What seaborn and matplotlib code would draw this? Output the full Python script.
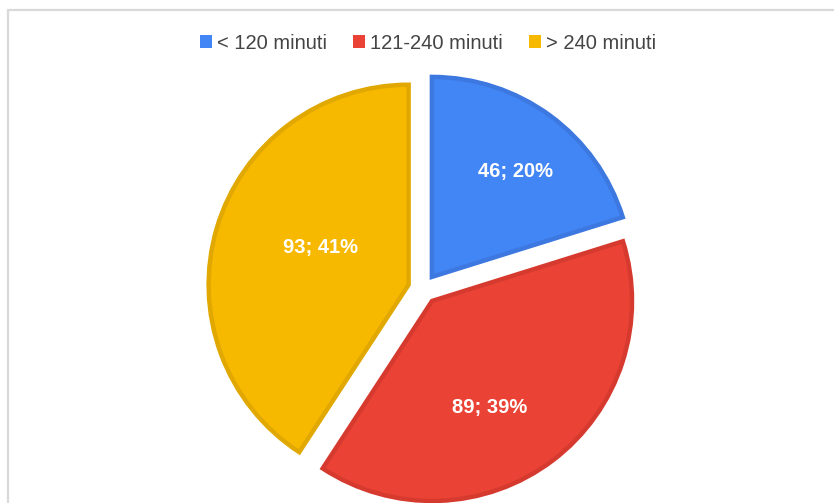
import matplotlib
matplotlib.use("Agg")
import matplotlib.pyplot as plt
import seaborn as sns
from matplotlib.patches import Rectangle

categories = ["< 120 minuti", "121-240 minuti", "> 240 minuti"]
values = [46, 89, 93]
percent_labels = ["20%", "39%", "41%"]

sns.set_theme(style="white")
plt.rcParams["font.family"] = ["Liberation Sans", "DejaVu Sans"]

fill_colors = ["#4285F4", "#EA4335", "#F7B800"]
edge_colors = ["#3C78E0", "#D63A2F", "#E0A800"]
label_pos = [(0.465, 0.585), (0.335, -0.595), (-0.515, 0.205)]

fig = plt.figure(figsize=(8.34, 5.03), dpi=100)
ax = fig.add_axes([0, 0, 1, 1])

wedges, _ = ax.pie(values, colors=fill_colors, startangle=90, counterclock=False,
                   explode=[0.075] * len(values), radius=1.0,
                   wedgeprops=dict(linewidth=3.2))
for w, ec in zip(wedges, edge_colors):
    w.set_edgecolor(ec)
    w.set_joinstyle("miter")

for v, p, pos in zip(values, percent_labels, label_pos):
    ax.text(pos[0], pos[1], f"{v}; {p}", ha="center", va="center",
            color="white", fontsize=14.5, fontweight="bold")

cx, cy, r = 423, 289, 200
ax.set_xlim((0 - cx) / r, (834 - cx) / r)
ax.set_ylim((cy - 503) / r, (cy - 0) / r)
ax.set_aspect("auto")
ax.axis("off")

leg = fig.legend(wedges, categories, loc="center", bbox_to_anchor=(0.513, 0.9145),
                 ncol=3, frameon=False, fontsize=14.5, handlelength=0.6,
                 handleheight=0.6, handletextpad=0.25, columnspacing=1.3,
                 labelcolor="#444444")
for h, c in zip(leg.legend_handles, fill_colors):
    h.set_edgecolor("none")
    h.set_facecolor(c)

fig.add_artist(Rectangle((8 / 834, -0.1), 1.2, 1.1 - 10.5 / 503 + 0.0, transform=fig.transFigure,
                         fill=False, edgecolor="#D9D9D9", linewidth=1.6, clip_on=False))

fig.savefig("out.png", dpi=100)
